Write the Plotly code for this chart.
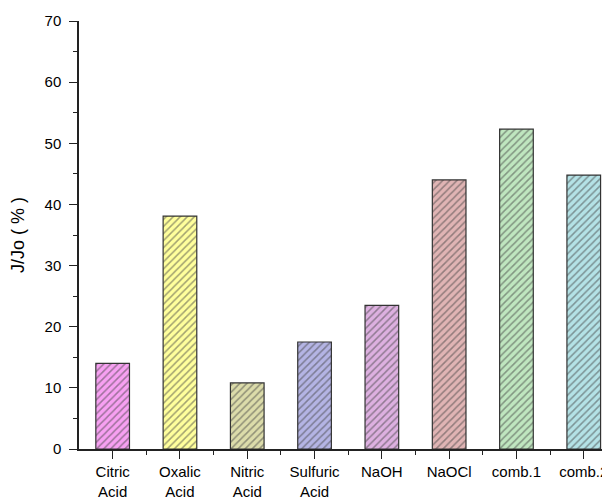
import plotly.graph_objects as go

categories = ["Citric Acid", "Oxalic Acid", "Nitric Acid", "Sulfuric Acid",
              "NaOH", "NaOCl", "comb.1", "comb.2"]
label_line1 = ["Citric", "Oxalic", "Nitric", "Sulfuric", "NaOH", "NaOCl", "comb.1", "comb.2"]
label_line2 = ["Acid", "Acid", "Acid", "Acid", "", "", "", ""]
values = [14.0, 38.1, 10.8, 17.5, 23.5, 44.0, 52.3, 44.8]
bg_colors = ["#f7a0f2", "#ffff9c", "#dcdcaa", "#b4b4e4", "#ddb0e0", "#e0b4b4", "#bfe6bf", "#b4e2e6"]
fg_colors = ["#b04ab0", "#d8d870", "#6e6e50", "#505080", "#7a4a7e", "#7e4a4a", "#4a7a4a", "#4a7a80"]

x_pos = list(range(len(categories)))

fig = go.Figure()
fig.add_trace(go.Bar(
    x=x_pos, y=values, width=0.5,
    marker=dict(
        color=bg_colors,
        line=dict(color="#333333", width=1.2),
        pattern=dict(shape="/", fgcolor=fg_colors, bgcolor=bg_colors, size=5, solidity=0.3, fillmode="overlay"),
    ),
    showlegend=False,
    hovertext=categories,
))
# invisible trace to keep the second label axis alive
fig.add_trace(go.Scatter(x=x_pos, y=values, xaxis="x2", mode="markers",
                         marker=dict(opacity=0), showlegend=False, hoverinfo="skip"))

font = "Liberation Sans, Arial, sans-serif"
fig.update_layout(
    width=602, height=491,
    margin=dict(l=71, r=0, t=13, b=50),
    plot_bgcolor="white", paper_bgcolor="white",
    font=dict(family=font, size=15, color="#000000"),
    bargap=0.5,
    xaxis=dict(
        range=[-0.5, 7.39], automargin=False,
        tickmode="array", tickvals=x_pos, ticktext=label_line1,
        ticks="outside", ticklen=8, tickcolor="#222", tickwidth=1.2,
        minor=dict(tickmode="array", tickvals=[p + 0.5 for p in x_pos], ticks="outside", ticklen=4, tickcolor="#222"),
        showline=True, linecolor="#222", linewidth=1.5,
        showgrid=False, zeroline=False,
        tickfont=dict(size=15, family=font, color="#000"),
    ),
    xaxis2=dict(
        overlaying="x", matches="x", side="bottom", anchor="y",
        tickmode="array", tickvals=x_pos, ticktext=label_line2,
        ticks="", showline=False, showgrid=False, zeroline=False,
        ticklabelstandoff=32, automargin=False,
        tickfont=dict(size=15, family=font, color="#000"),
    ),
    yaxis=dict(
        range=[0, 70], dtick=10, automargin=False,
        ticks="outside", ticklen=8, tickcolor="#222", tickwidth=1.2,
        minor=dict(dtick=5, ticks="outside", ticklen=4, tickcolor="#222"),
        showline=True, linecolor="#222", linewidth=1.5,
        showgrid=False, zeroline=False, ticklabelstandoff=5,
        title=dict(text="J/Jo ( % )", font=dict(size=18, family=font, color="#000"), standoff=19),
        tickfont=dict(size=15, family=font, color="#000"),
    ),
)

fig.write_html("out.html")
